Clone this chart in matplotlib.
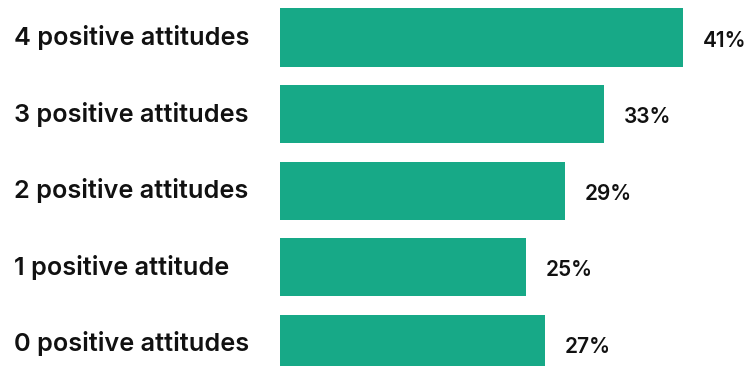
import matplotlib
matplotlib.use("Agg")
import matplotlib.pyplot as plt

categories = ["4 positive attitudes", "3 positive attitudes", "2 positive attitudes",
              "1 positive attitude", "0 positive attitudes"]
shares = [41, 33, 29, 25, 27]
value_labels = ["41%", "33%", "29%", "25%", "27%"]

BAR_COLOR = "#17a987"
FONT = "Inter"

fig = plt.figure(figsize=(7.48, 3.66), dpi=100)
ax = fig.add_axes([0, 0, 1, 1])

ypos = list(range(len(categories)))
ax.barh(ypos, shares, height=0.76, color=BAR_COLOR, edgecolor="none")

# zero sits ~280px from the left edge; 1% is about 9.83px
px_per_pct = 9.83
ax.set_xlim(-280 / px_per_pct, (748 - 280) / px_per_pct)
ax.set_ylim(4.29, -0.49)

for y, cat, v, lbl in zip(ypos, categories, shares, value_labels):
    ax.text(-266 / px_per_pct, y, cat, ha="left", va="center",
            fontsize=18.2, fontweight="semibold", family=FONT, color="#111111")
    ax.text(v + 2.0, y + 0.04, lbl, ha="left", va="center",
            fontsize=15, fontweight="semibold", family=FONT, color="#111111")

ax.axis("off")
fig.savefig("out.png", dpi=100)
